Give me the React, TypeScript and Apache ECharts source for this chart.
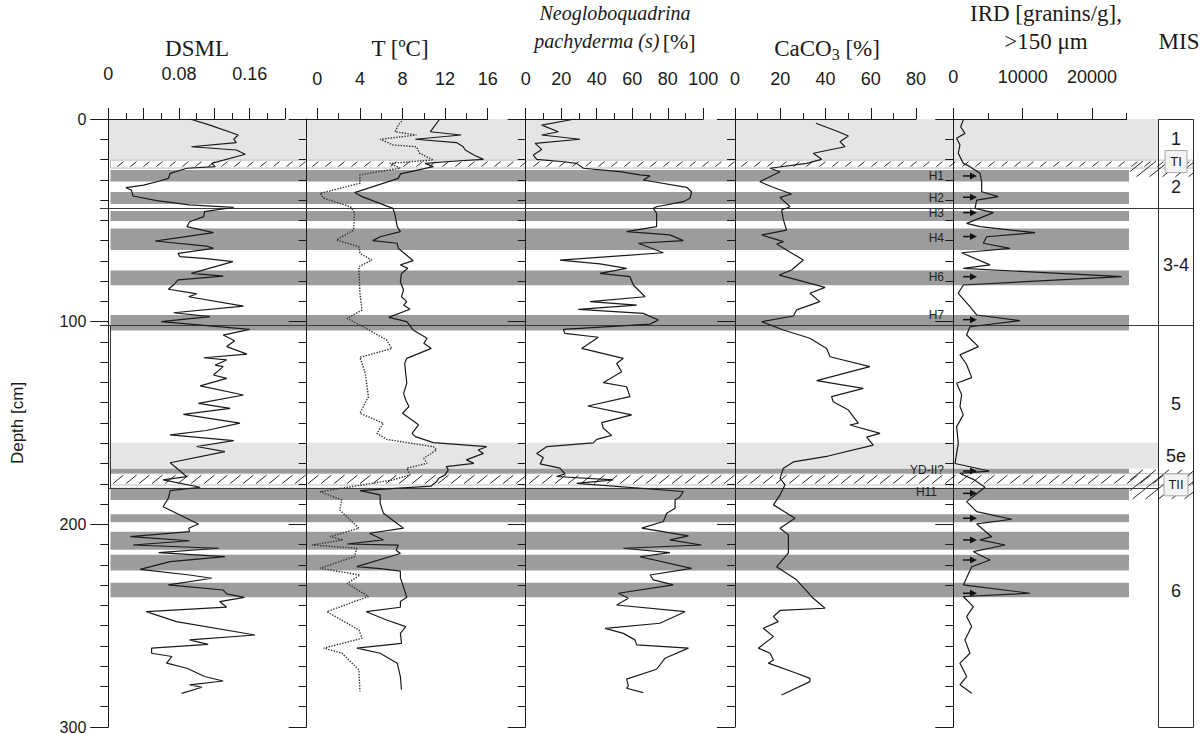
import React, { useEffect, useRef } from "react";
import * as echarts from "echarts";

// ---------------- data (depth [cm], value) ----------------
const DSML: number[][] = [
  [0, 0.0925], [3, 0.115], [7.9, 0.147], [10, 0.142], [11.7, 0.145], [13.7, 0.094], [15.3, 0.145], [17.4, 0.155],
  [21.9, 0.117], [23.5, 0.121], [24.3, 0.089], [26.8, 0.07], [29.3, 0.068], [30.6, 0.058], [32.6, 0.04], [33.9, 0.02],
  [35, 0.026], [38, 0.028], [40.3, 0.055], [42.4, 0.092], [43.6, 0.142], [45.7, 0.109], [48.2, 0.108], [50.7, 0.092],
  [53.1, 0.089], [56.1, 0.119], [58.9, 0.074], [60.2, 0.053], [62.7, 0.111], [63.8, 0.119], [66.3, 0.079], [67.9, 0.081],
  [68.9, 0.111], [70.4, 0.141], [76.2, 0.094], [77.5, 0.13], [79.4, 0.079], [81.4, 0.075], [84, 0.068], [85.7, 0.092],
  [86.3, 0.1], [87.7, 0.091], [92.3, 0.153], [95.6, 0.074], [97.5, 0.115], [100, 0.06], [103.8, 0.16], [106.6, 0.13],
  [109.4, 0.143], [112.3, 0.134], [116, 0.157], [117.8, 0.108], [118.9, 0.134], [121.4, 0.121], [122.2, 0.13],
  [126.3, 0.119], [128, 0.134], [131.7, 0.104], [136.2, 0.153], [140.3, 0.102], [142.8, 0.138], [145.7, 0.085],
  [150.1, 0.149], [153.7, 0.111], [155.9, 0.07], [158.7, 0.142], [161.6, 0.1], [164.1, 0.132], [169.6, 0.07],
  [176.5, 0.089], [178.1, 0.062], [181.7, 0.104], [183.4, 0.07], [187.1, 0.068], [191.3, 0.062], [194.5, 0.077],
  [199.8, 0.102], [201.9, 0.091], [203.6, 0.092], [206.1, 0.025], [208.1, 0.092], [210.2, 0.028], [211.8, 0.125],
  [214, 0.057], [215.9, 0.132], [218.4, 0.07], [222.2, 0.036], [225, 0.092], [226.6, 0.117], [229.9, 0.068],
  [232.4, 0.13], [234.3, 0.134], [236, 0.154], [238.1, 0.126], [240.9, 0.134], [243.1, 0.043], [248, 0.077],
  [254.6, 0.166], [257, 0.092], [259.2, 0.113], [261.1, 0.049], [263.6, 0.049], [265.2, 0.072], [268.5, 0.066],
  [271, 0.089], [275.1, 0.109], [277.3, 0.13], [279.2, 0.092], [280.4, 0.106], [283.4, 0.083],
];

const T_SOLID: number[][] = [
  [0, 11.5], [6.3, 10.6], [7.9, 13.5], [10, 9.2], [11.7, 13.1], [13.7, 13.7], [15.3, 13.9], [17.8, 14.7], [19.9, 15.6],
  [20.6, 13.4], [21.9, 10.1], [23.5, 10.9], [27.1, 7.8], [29.3, 7.6], [36.3, 3.5], [38.3, 4.2], [44.1, 7.1], [47.4, 7.3],
  [53.1, 7.5], [55.6, 7.8], [58.1, 5.9], [60, 5.2], [61.3, 7.5], [63.8, 7.6], [69.9, 9.0], [72, 7.8], [73.7, 8.5],
  [76.2, 7.9], [80.3, 7.8], [84.4, 8.1], [87.7, 7.9], [90.1, 8.4], [91.8, 8.1], [93.9, 8.7], [97.9, 6.7], [100, 8.4],
  [104.1, 9.0], [108.2, 10.3], [110.7, 10.0], [113.2, 10.7], [118.1, 8.4], [120.6, 8.2], [130.4, 8.4], [135.4, 8.1],
  [138.7, 8.3], [141.9, 8.6], [145.2, 8.0], [150.9, 9.5], [155.1, 8.9], [156.7, 9.2], [159.7, 10.9], [161.7, 15.9],
  [163.3, 15.1], [165, 15.6], [168.2, 14.0], [169.9, 14.7], [171.5, 12.1], [173.1, 12.3], [175.6, 12.0], [177.3, 11.4],
  [178.9, 11.2], [181.1, 10.7], [183.4, 4.0], [185.5, 5.9], [189.6, 5.9], [194.5, 6.2], [201.9, 8.1], [204.4, 4.9],
  [207.7, 6.2], [209.7, 2.8], [210.3, 7.6], [212.8, 7.4], [214.4, 7.8], [220.9, 3.7], [221.9, 5.9], [223.1, 7.8],
  [226.3, 7.8], [236, 8.4], [238.1, 7.8], [240.9, 7.8], [243.1, 4.6], [247.2, 6.5], [250.5, 8.3], [253.8, 7.8],
  [258.7, 7.9], [261.1, 3.7], [263.6, 5.9], [268.5, 7.5], [275.1, 7.8], [281.6, 7.9],
];

const T_DOTTED: number[][] = [
  [0, 8.1], [3, 7.6], [6.3, 7.3], [7.9, 9.3], [10, 5.9], [12.8, 7.1], [13.7, 9.3], [16.9, 9.6], [20.2, 10.9],
  [21.9, 6.8], [24.3, 7.8], [26, 5.7], [27.6, 4.0], [31.7, 4.0], [36.7, 0.25], [39.1, 0.6], [43.3, 3.1], [46.5, 3.5],
  [54.8, 3.4], [59.7, 1.8], [63, 3.9], [66.3, 4.0], [69.6, 5.1], [72.9, 3.9], [86, 4.0], [94.2, 4.2], [98.4, 2.8],
  [102.5, 4.3], [109, 6.5], [113.2, 7.0], [117.6, 4.0], [125.5, 4.5], [137, 4.8], [145.2, 4.0], [150.1, 6.2],
  [155.1, 5.6], [158.1, 6.5], [161.7, 10.9], [163.3, 11.2], [167.4, 10.0], [169.9, 10.3], [172.3, 8.4], [175.6, 8.7],
  [178.1, 7.1], [183.9, 0.25], [188, 2.3], [192.9, 2.1], [201.9, 3.9], [206.1, 1.2], [207.7, 2.4], [210.2, -0.5],
  [211.8, 3.7], [215.9, 3.5], [221.7, 0.25], [225, 4.0], [229.2, 2.8], [235.6, 4.8], [243.1, 0.9], [252.1, 3.9],
  [256.2, 4.2], [261.1, 0.6], [263.6, 2.3], [271.8, 3.9], [282.5, 4.0],
];

const NPS: number[][] = [
  [0, 27.8], [3, 9], [6.3, 18.4], [7.9, 9], [10, 30.6], [12, 5.3], [15, 9], [17.8, 4.3], [19.9, 6.2], [21.1, 21.2],
  [21.9, 28.7], [24.3, 32.5], [26, 53], [27.6, 64.4], [28.1, 70], [30.1, 66.2], [33.7, 90.6], [35.9, 93.4], [39.1, 92.5],
  [40.8, 88.7], [43.3, 73.7], [44.1, 71.9], [46.5, 73.7], [53.1, 73.7], [55.6, 56.8], [57.2, 81.2], [60, 88.7],
  [61.3, 63.4], [66, 77.5], [69.6, 19.3], [71.5, 41.8], [73.7, 56.8], [76.2, 41.8], [77.8, 58.7], [81.9, 60.6],
  [87.7, 67.2], [90.1, 36.2], [91.8, 62.5], [93.9, 29.6], [95.9, 66.2], [99.2, 74.7], [101.2, 70], [103.8, 21.2],
  [105.8, 22.1], [107.7, 40.9], [113.2, 31.5], [118.1, 55], [120.6, 51.2], [124.7, 54], [130.1, 43.7], [132.1, 56.8],
  [137, 58.7], [141.6, 35], [146, 59.7], [149.8, 42.8], [152.6, 43.7], [156.1, 48.4], [158.1, 40], [159.8, 38.1],
  [161.7, 11.8], [165, 6.2], [167, 9.9], [170.2, 8.1], [172.3, 19.3], [175.1, 22.1], [176.4, 17.4], [178.1, 49.3],
  [179.8, 28.7], [183.8, 88.7], [186.4, 86.9], [188, 84.1], [192.1, 84.1], [194.5, 79.4], [198.6, 77.5], [201.9, 65.3],
  [205.7, 91.6], [207.7, 81.2], [210.2, 99], [211.8, 55], [214, 81.2], [216, 64.4], [221.7, 93.4], [225, 70],
  [227.4, 71.9], [229.9, 83.1], [234, 52.2], [236.5, 57.8], [239.8, 51.2], [243.1, 89.7], [248.8, 75.6], [251.3, 44.7],
  [253.8, 55], [257, 61.5], [259.5, 62.5], [261.1, 91.6], [266.1, 78.4], [271.5, 73.7], [276.4, 56.8], [279.7, 57.8],
  [280.9, 56.8], [283, 66.2],
];

const CACO3: number[][] = [
  [2.1, 35.8], [6.3, 45.7], [8.4, 50.1], [11.2, 46.4], [13.7, 48.6], [16.9, 34.6], [19.9, 38.3], [21.9, 31.7],
  [24.3, 15.5], [26, 19.9], [30.9, 11], [33.4, 16.2], [37, 25], [38.7, 19.9], [43.3, 24.3], [44.9, 20.6], [49.8, 21.4],
  [54.8, 22.8], [57.2, 11.8], [60.5, 21.4], [61.7, 18.4], [69.6, 30.2], [74.5, 25], [77, 19.6], [83.1, 39.8],
  [86, 33.1], [90.1, 37.5], [94.2, 27.2], [97.2, 25.8], [100, 11.8], [104.1, 21.4], [108.2, 33.1], [113.2, 40.5],
  [117.3, 42], [122.2, 59.6], [129.1, 36.1], [132.9, 56.7], [137, 42.7], [139.5, 43.4], [143.6, 50.1], [150.1, 54.5],
  [151, 50.8], [155.1, 64.1], [157, 58.2], [160.9, 61.1], [166.3, 41.2], [169.2, 25.8], [172.3, 21.4], [177.3, 19.9],
  [180.5, 22.1], [185.5, 19.9], [190.4, 17], [197, 26.5], [201.9, 19.9], [205.2, 23.6], [214.2, 23.6], [220.9, 18.4],
  [227.4, 27.2], [236.5, 34.6], [241.4, 39.8], [242.5, 19.9], [245.5, 17], [248, 19.1], [251.3, 12.5], [255.4, 17],
  [261.1, 10.3], [263.6, 15.5], [266.9, 17], [268.5, 14.7], [273.5, 27.2], [276, 33.1], [277.6, 33.1], [284.2, 20.6],
];

const IRD: number[][] = [
  [0.5, 1440], [3.8, 1060], [7.1, 1680], [9.5, 480], [12.8, 960], [16.9, 720], [21.9, 1440], [23.5, 2400],
  [26.8, 3850], [30.9, 4090], [35.9, 4090], [38.3, 6490], [40, 3370], [44.1, 3130], [46.2, 5770], [51.5, 1920],
  [53.1, 3850], [56.1, 11780], [58.1, 4810], [61.3, 4330], [63.8, 8180], [66, 1200], [72, 5290], [73.7, 1440],
  [77.8, 24290], [81.9, 1440], [86, 720], [92.6, 2400], [96.7, 3370], [99.5, 9620], [102.5, 2400], [106.6, 1920],
  [112.3, 3610], [116.4, 960], [121, 1900], [127.6, 2650], [130.4, 480], [136, 1200], [141.9, 960], [146, 1440],
  [151.8, 480], [160.1, 720], [170, 240], [173.7, 5190], [174.9, 960], [177.8, 2890], [181.7, 4570], [188.8, 1920],
  [193.7, 3370], [197.5, 8420], [199.8, 3370], [206.1, 5530], [207.7, 3850], [210.2, 7460], [213.5, 2890],
  [217.6, 5290], [220.9, 2650], [229.9, 1440], [234, 11060], [235.6, 1440], [240.6, 2890], [245.5, 1920],
  [250.4, 2650], [257, 1680], [263.6, 2400], [268.5, 960], [275.1, 1920], [279.2, 960], [283.4, 2650],
];

// tick values and labels per panel
const DSML_MAJOR = [0, 0.04, 0.08, 0.12, 0.16, 0.2];
const DSML_MINOR = [0.02, 0.06, 0.1, 0.14, 0.18];
const DSML_LABELS = [0, 0.08, 0.16];
const T_MAJOR = [0, 4, 8, 12, 16];
const T_MINOR = [2, 6, 10, 14];
const T_LABELS = [0, 4, 8, 12, 16];
const NPS_MAJOR = [0, 20, 40, 60, 80, 100];
const NPS_MINOR = [10, 30, 50, 70, 90];
const NPS_LABELS = [0, 20, 40, 60, 80, 100];
const CACO3_MAJOR = [0, 20, 40, 60, 80];
const CACO3_MINOR = [10, 30, 50, 70];
const CACO3_LABELS = [0, 20, 40, 60, 80];
const IRD_MAJOR = [0, 10000, 20000];
const IRD_MINOR = [5000, 15000, 25000];
const IRD_LABELS = [0, 10000, 20000];

// depth intervals [top, bottom] in cm
const LIGHT_BANDS = [[0, 20.2], [159.7, 172.6]];
const DARK_BANDS = [
  [25.2, 30.9], [36, 42], [45.4, 50.3], [54, 64.6], [74.8, 82], [96.7, 104.4],
  [172.6, 175], [182, 188], [195, 199], [203.6, 212.6], [215, 222.8], [228.8, 236],
];
const HATCH_BANDS = [[20.3, 24.2], [175, 180.6]];
const HATCH_MIS = [[20.3, 29], [172.6, 188]];
const MIS_BOUNDARIES = [43.7, 101.6, 182];
const MIS_LABELS: [string, number][] = [["1", 10], ["2", 33.5], ["3-4", 72], ["5", 140.5], ["5e", 166.5], ["6", 233]];
const TERMINATIONS: [string, number][] = [["TI", 21], ["TII", 180.5]];
const H_EVENTS: [string, number][] = [
  ["H1", 28.1], ["H2", 39], ["H3", 46.4], ["H4", 58.7], ["H6", 78], ["H7", 96.5], ["YD-II?", 173.2], ["H11", 184],
];
const ARROW_DEPTHS = [28.1, 38.6, 46.2, 58, 77.8, 99, 173.7, 184.7, 197, 207.7, 217.6, 234];

// ---------------- layout ----------------
const TOP = 119;
const HEIGHT = 608;
const SANS = "Liberation Sans";
const SERIF = "Liberation Serif";
const INK = "#1a1a1a";

const PANELS = [
  { left: 108.3, width: 176.7, min: 0, max: 0.2, major: DSML_MAJOR, minor: DSML_MINOR, labels: DSML_LABELS, margin: 36 },
  { left: 306.7, width: 181, min: -1, max: 16, major: T_MAJOR, minor: T_MINOR, labels: T_LABELS, margin: 31 },
  { left: 525.7, width: 177.6, min: 0, max: 100, major: NPS_MAJOR, minor: NPS_MINOR, labels: NPS_LABELS, margin: 31 },
  { left: 735, width: 181, min: 0, max: 80, major: CACO3_MAJOR, minor: CACO3_MINOR, labels: CACO3_LABELS, margin: 31 },
  { left: 953.3, width: 173.4, min: 0, max: 25000, major: IRD_MAJOR, minor: IRD_MINOR, labels: IRD_LABELS, margin: 33 },
];

function buildOption() {
  const lineStyle = { color: INK, width: 1 };
  const grid = PANELS.map((p) => ({
    left: p.left, top: TOP, width: p.width, height: HEIGHT, containLabel: false, outerBoundsMode: "none",
  }));
  const xAxis: any[] = [];
  PANELS.forEach((p, i) => {
    xAxis.push({
      type: "value", gridIndex: i, position: "top", min: p.min, max: p.max,
      axisLine: { show: true, onZero: false, lineStyle },
      axisTick: { show: true, length: 11, customValues: p.major, lineStyle },
      axisLabel: {
        show: true, customValues: p.labels, margin: p.margin, fontSize: 18, fontFamily: SANS, color: INK,
        formatter: (v: number) => String(Math.round(v * 1000) / 1000),
      },
      splitLine: { show: false },
    });
    xAxis.push({
      type: "value", gridIndex: i, position: "top", min: p.min, max: p.max,
      axisLine: { show: false, onZero: false },
      axisTick: { show: true, length: 6, customValues: p.minor, lineStyle },
      axisLabel: { show: false },
      splitLine: { show: false },
    });
  });
  const yAxis = PANELS.map((p, i) => ({
    type: "value", gridIndex: i, inverse: true, min: 0, max: 300, interval: 100, position: "left",
    axisLine: { show: true, onZero: false, lineStyle },
    axisTick: { show: true, length: 18, lineStyle },
    minorTick: { show: true, splitNumber: 10, length: 8, lineStyle },
    axisLabel: { show: i === 0, margin: 22, fontSize: 16, lineHeight: 14, padding: [0, 0, 3, 0], fontFamily: SANS, color: INK },
    splitLine: { show: false },
    minorSplitLine: { show: false },
    name: i === 0 ? "Depth [cm]" : "",
    nameLocation: "middle",
    nameGap: 82,
    nameRotate: 90,
    nameTextStyle: { fontSize: 17, fontFamily: SANS, color: INK },
  }));
  const mk = (data: number[][], i: number, dotted = false) => ({
    type: "line", xAxisIndex: 2 * i, yAxisIndex: i,
    data: data.map(([d, v]) => [v, d]),
    showSymbol: false, symbol: "none", silent: true, z: 5,
    lineStyle: { color: dotted ? "#333" : INK, width: dotted ? 1.4 : 1.2, type: dotted ? "dotted" : "solid" },
  });
  return {
    animation: false,
    backgroundColor: "#ffffff",
    grid, xAxis, yAxis,
    series: [mk(DSML, 0), mk(T_SOLID, 1), mk(T_DOTTED, 1, true), mk(NPS, 2), mk(CACO3, 3), mk(IRD, 4)],
  };
}

function hatch(x0: number, x1: number, y0: number, y1: number, step: number, k: number, z: number) {
  const out: any[] = [];
  const h = y1 - y0;
  const dx = h * k;
  for (let c = x0 - dx; c < x1; c += step) {
    let t0 = 0, t1 = 1;
    if (c < x0) t0 = Math.max(t0, (x0 - c) / dx);
    if (c + dx > x1) t1 = Math.min(t1, (x1 - c) / dx);
    if (t1 <= t0) continue;
    out.push({
      type: "line", silent: true, z,
      shape: { x1: c + t0 * dx, y1: y1 - t0 * h, x2: c + t1 * dx, y2: y1 - t1 * h },
      style: { stroke: "#2a2a2a", lineWidth: 1 },
    });
  }
  return out;
}

function buildGraphics(yPix: (d: number) => number) {
  const g: any[] = [];
  const LIGHT = "#e5e5e5";
  const DARK = "#9c9c9c";
  const BAND_L = 110.5;
  const DARK_R = 1129;
  const MIS_L = 1158;
  const MIS_R = 1193;

  LIGHT_BANDS.forEach(([a, b]) => {
    const y0 = yPix(a), y1 = yPix(b);
    g.push({ type: "rect", silent: true, z: -10, shape: { x: 108.8, y: y0, width: MIS_L - 108.8, height: y1 - y0 }, style: { fill: LIGHT } });
  });
  DARK_BANDS.forEach(([a, b]) => {
    const y0 = yPix(a), y1 = yPix(b);
    g.push({ type: "rect", silent: true, z: -9, shape: { x: BAND_L, y: y0, width: DARK_R - BAND_L, height: y1 - y0 }, style: { fill: DARK } });
  });
  HATCH_MIS.forEach(([a, b]) => {
    const y0 = yPix(a), y1 = yPix(b);
    g.push({ type: "rect", silent: true, z: -8, shape: { x: 1130, y: y0, width: MIS_R - 1130, height: y1 - y0 }, style: { fill: "#ffffff" } });
    g.push(...hatch(1130, MIS_R, y0 + 1, y1 - 1, 13, 1.25, -7));
  });
  HATCH_BANDS.forEach(([a, b]) => {
    const y0 = yPix(a), y1 = yPix(b);
    g.push({ type: "rect", silent: true, z: -8, shape: { x: BAND_L, y: y0, width: MIS_R - BAND_L, height: y1 - y0 }, style: { fill: "#ffffff", stroke: "#bdbdbd", lineWidth: 1 } });
    g.push(...hatch(BAND_L, MIS_R, y0 + 1.5, y1 - 1.5, 13, 1.25, -7));
  });

  // MIS boundaries
  MIS_BOUNDARIES.forEach((d, i) => {
    const y = Math.round(yPix(d)) + 0.5;
    const x0 = i < 2 ? 100 : 109;
    const x1 = i < 2 ? MIS_R : MIS_L;
    g.push({ type: "line", silent: true, z: 3, shape: { x1: x0, y1: y, x2: x1, y2: y }, style: { stroke: "#3a3a3a", lineWidth: 1 } });
  });
  // left edge of MIS 5 box
  g.push({ type: "line", silent: true, z: 3, shape: { x1: 110.5, y1: yPix(MIS_BOUNDARIES[1]), x2: 110.5, y2: yPix(MIS_BOUNDARIES[2]) }, style: { stroke: "#3a3a3a", lineWidth: 1 } });

  // MIS column
  g.push({ type: "rect", silent: true, z: 4, shape: { x: MIS_L + 0.5, y: yPix(0) + 0.5, width: MIS_R - MIS_L, height: yPix(300) - yPix(0) }, style: { fill: "none", stroke: "#2a2a2a", lineWidth: 1 } });
  MIS_LABELS.forEach(([t, d]) => {
    g.push({ type: "text", silent: true, z: 6, x: (MIS_L + MIS_R) / 2 + 0.5, y: yPix(d), style: { text: t, fontSize: 18, fontFamily: SANS, fill: INK, align: "center", verticalAlign: "middle" } });
  });
  TERMINATIONS.forEach(([t, d]) => {
    const y = yPix(d);
    const w = t === "TI" ? 22 : 24;
    g.push({ type: "rect", silent: true, z: 6, shape: { x: 1176 - w / 2, y: y - 11, width: w, height: 22 }, style: { fill: "#f3f3f3", stroke: "#a8a8a8", lineWidth: 1 } });
    g.push({ type: "text", silent: true, z: 7, x: 1176, y, style: { text: t, fontSize: 13, fontFamily: SANS, fill: INK, align: "center", verticalAlign: "middle" } });
  });

  // H event labels
  H_EVENTS.forEach(([t, d]) => {
    g.push({ type: "text", silent: true, z: 8, x: t === "H11" ? 937 : 944, y: yPix(d), style: { text: t, fontSize: 12, fontFamily: SANS, fill: "#222", align: "right", verticalAlign: "middle" } });
  });
  // arrows
  ARROW_DEPTHS.forEach((d) => {
    const y = yPix(d);
    g.push({ type: "line", silent: true, z: 8, shape: { x1: 963, y1: y, x2: 972, y2: y }, style: { stroke: "#111", lineWidth: 1.5 } });
    g.push({ type: "polygon", silent: true, z: 8, shape: { points: [[970, y - 3.5], [977, y], [970, y + 3.5]] }, style: { fill: "#111" } });
  });

  // titles
  const title = (text: string, x: number, y: number, extra: any = {}) => ({
    type: "text", silent: true, z: 10, x, y,
    style: { text, fontSize: 23, fontFamily: SERIF, fill: INK, align: "center", verticalAlign: "middle", ...extra },
  });
  g.push(title("DSML", 197, 48));
  g.push(title("T [ºC]", 400, 48));
  g.push(title("Neogloboquadrina", 615, 13, { fontStyle: "italic", fontSize: 20 }));
  g.push({
    type: "text", silent: true, z: 10, x: 615, y: 41,
    style: {
      text: "{i|pachyderma (s)} {n|[%]}", align: "center", verticalAlign: "middle",
      rich: {
        i: { fontSize: 20, fontFamily: SERIF, fontStyle: "italic", fill: INK },
        n: { fontSize: 22, fontFamily: SERIF, fill: INK },
      },
    },
  });
  g.push({
    type: "text", silent: true, z: 10, x: 827, y: 48,
    style: {
      text: "{n|CaCO}{s|3}{n| [%]}", align: "center", verticalAlign: "middle",
      rich: {
        n: { fontSize: 23, fontFamily: SERIF, fill: INK, lineHeight: 28, verticalAlign: "middle" },
        s: { fontSize: 16, fontFamily: SERIF, fill: INK, lineHeight: 28, verticalAlign: "bottom" },
      },
    },
  });
  g.push(title("IRD [granins/g],", 1046, 13));
  g.push(title(">150 μm", 1046, 41));
  g.push(title("MIS", 1179, 41));
  return g;
}

export default function App() {
  const ref = useRef<HTMLDivElement>(null);
  useEffect(() => {
    document.body.style.margin = "0";
    const chart = echarts.init(ref.current!, null, { renderer: "svg" });
    chart.setOption(buildOption() as any);
    const yPix = (d: number) => chart.convertToPixel({ yAxisIndex: 0 } as any, d) as unknown as number;
    chart.setOption({ graphic: buildGraphics(yPix) } as any);
    return () => chart.dispose();
  }, []);
  return <div ref={ref} style={{ width: 1204, height: 734 }} />;
}
